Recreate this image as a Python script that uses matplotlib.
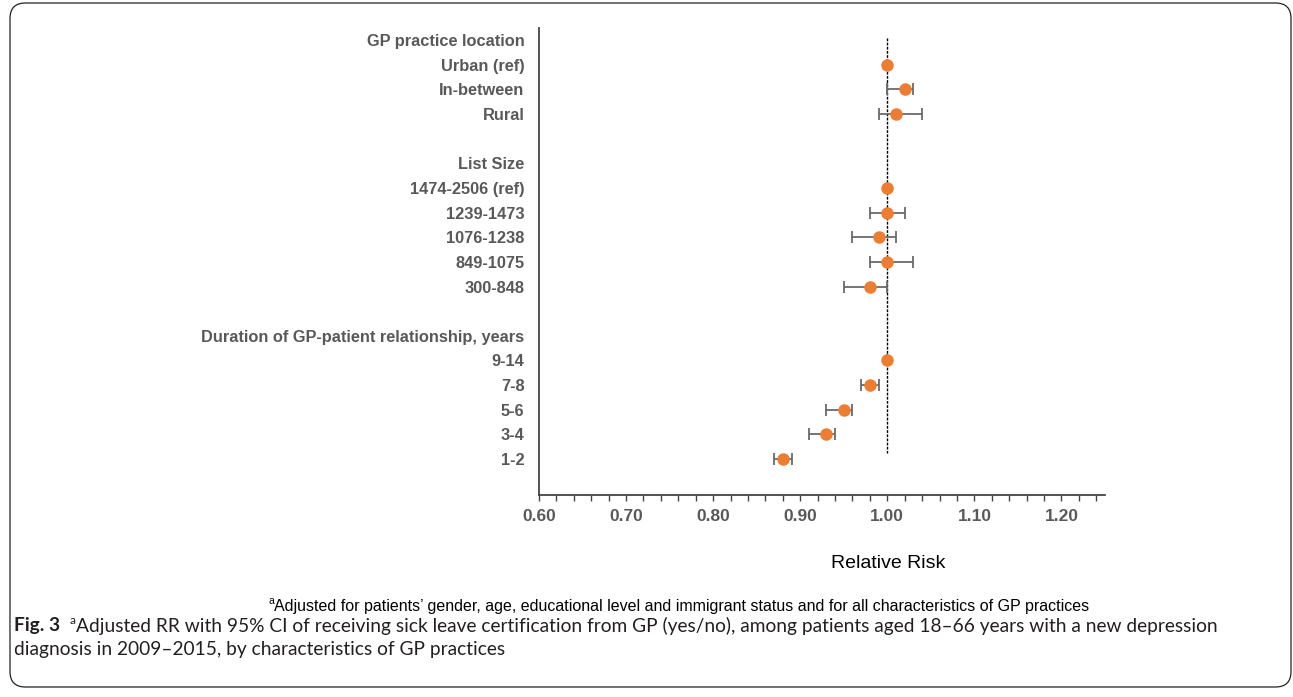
import matplotlib.pyplot as plt
import numpy as np
from matplotlib.patches import FancyBboxPatch

# rows top to bottom; None = header / blank row
labels = [
    "GP practice location", "Urban (ref)", "In-between", "Rural", "",
    "List Size", "1474-2506 (ref)", "1239-1473", "1076-1238", "849-1075", "300-848", "",
    "Duration of GP-patient relationship, years", "9-14", "7-8", "5-6", "3-4", "1-2",
]
rr = [None, 1.00, 1.02, 1.01, None,
      None, 1.00, 1.00, 0.99, 1.00, 0.98, None,
      None, 1.00, 0.98, 0.95, 0.93, 0.88]
ci_low = [None, 1.00, 1.00, 0.99, None,
          None, 1.00, 0.98, 0.96, 0.98, 0.95, None,
          None, 1.00, 0.97, 0.93, 0.91, 0.87]
ci_high = [None, 1.00, 1.03, 1.04, None,
           None, 1.00, 1.02, 1.01, 1.03, 1.00, None,
           None, 1.00, 0.99, 0.96, 0.94, 0.89]

W, H = 1293, 697
fig = plt.figure(figsize=(W / 100, H / 100), dpi=100)
fig.patches.append(FancyBboxPatch((10 / W, 10 / H), 1281 / W, 684 / H,
                                  boxstyle="round,pad=0,rounding_size=0.012",
                                  transform=fig.transFigure, fill=False,
                                  edgecolor="#222222", lw=0.9, mutation_aspect=W / H))

ax = fig.add_axes([539 / W, 1 - 495 / H, 566 / W, 467 / H])

gray = "#595959"
idx = [i for i, v in enumerate(rr) if v is not None]
y = np.array(idx, dtype=float)
x = np.array([rr[i] for i in idx])
lo = x - np.array([ci_low[i] for i in idx])
hi = np.array([ci_high[i] for i in idx]) - x

ax.vlines(1.0, -0.1, 16.75, colors="black", linestyles=(0, (2, 1)), lw=1.0, zorder=1)
ax.errorbar(x, y, xerr=[lo, hi], fmt="none", ecolor="#6a6a6a", elinewidth=1.3,
            capsize=4, capthick=1.3, zorder=2)
ax.plot(x, y, "o", color="#ED7D31", markersize=9, markeredgewidth=0, zorder=3)

ax.set_xlim(0.60, 1.25)
ax.set_ylim(len(labels) - 1 + 1.46, -0.49)
ax.set_xticks(np.arange(0.60, 1.21, 0.10))
ax.set_xticks(np.arange(0.60, 1.25, 0.02), minor=True)
ax.set_xticklabels([f"{t:.2f}" for t in np.arange(0.60, 1.21, 0.10)],
                   fontsize=12.5, fontweight="bold", color=gray, family="Liberation Sans")
ax.tick_params(axis="x", which="both", direction="out", length=4, width=1, color="#444444", pad=6)
ax.set_yticks(range(len(labels)))
ax.set_yticklabels(labels, fontsize=11.8, fontweight="bold", color=gray, family="Liberation Sans")
ax.tick_params(axis="y", length=0, pad=10.5)
for s in ["top", "right"]:
    ax.spines[s].set_visible(False)
ax.spines["left"].set_color("#444444")
ax.spines["bottom"].set_color("#444444")
ax.spines["left"].set_linewidth(1.3)
ax.spines["bottom"].set_linewidth(1.3)

fig.text(888 / W, 1 - 563 / H, "Relative Risk", ha="center", va="center",
         fontsize=14, family="Liberation Sans", color="black")

renderer = fig.canvas.get_renderer()


def run_text(x0, yc, parts):
    # draw text segments one after another on a line (pixels)
    xp = x0
    for txt, kw, dy in parts:
        t = fig.text(xp / W, 1 - (yc - dy) / H, txt, ha="left", va="center", **kw)
        bb = t.get_window_extent(renderer)
        xp = bb.x1
    return xp


foot = dict(family="Liberation Sans", fontsize=11.5, color="black")
sup = dict(family="Liberation Sans", fontsize=7.5, color="black")
# centre the footnote line
parts = [("a", sup, 5), ("Adjusted for patients\u2019 gender, age, educational level and immigrant status "
                          "and for all characteristics of GP practices", foot, 0)]
end = run_text(0, -100, parts)
for t in fig.texts[-2:]:
    t.remove()
run_text(679 - end / 2, 606, parts)

cap = dict(family="Lato", fontsize=13.8, color="#231f20")
capb = dict(family="Lato", fontsize=13.8, fontweight="bold", color="#231f20")
caps = dict(family="Lato", fontsize=8.5, color="#231f20")
run_text(14, 626, [("Fig. 3", capb, 0), ("  ", cap, 0), ("a", caps, 5),
                   ("Adjusted RR with 95% CI of receiving sick leave certification from GP (yes/no), "
                    "among patients aged 18\u201366 years with a new depression", cap, 0)])
run_text(14, 650, [("diagnosis in 2009\u20132015, by characteristics of GP practices", cap, 0)])

fig.savefig("out.png", dpi=100)
